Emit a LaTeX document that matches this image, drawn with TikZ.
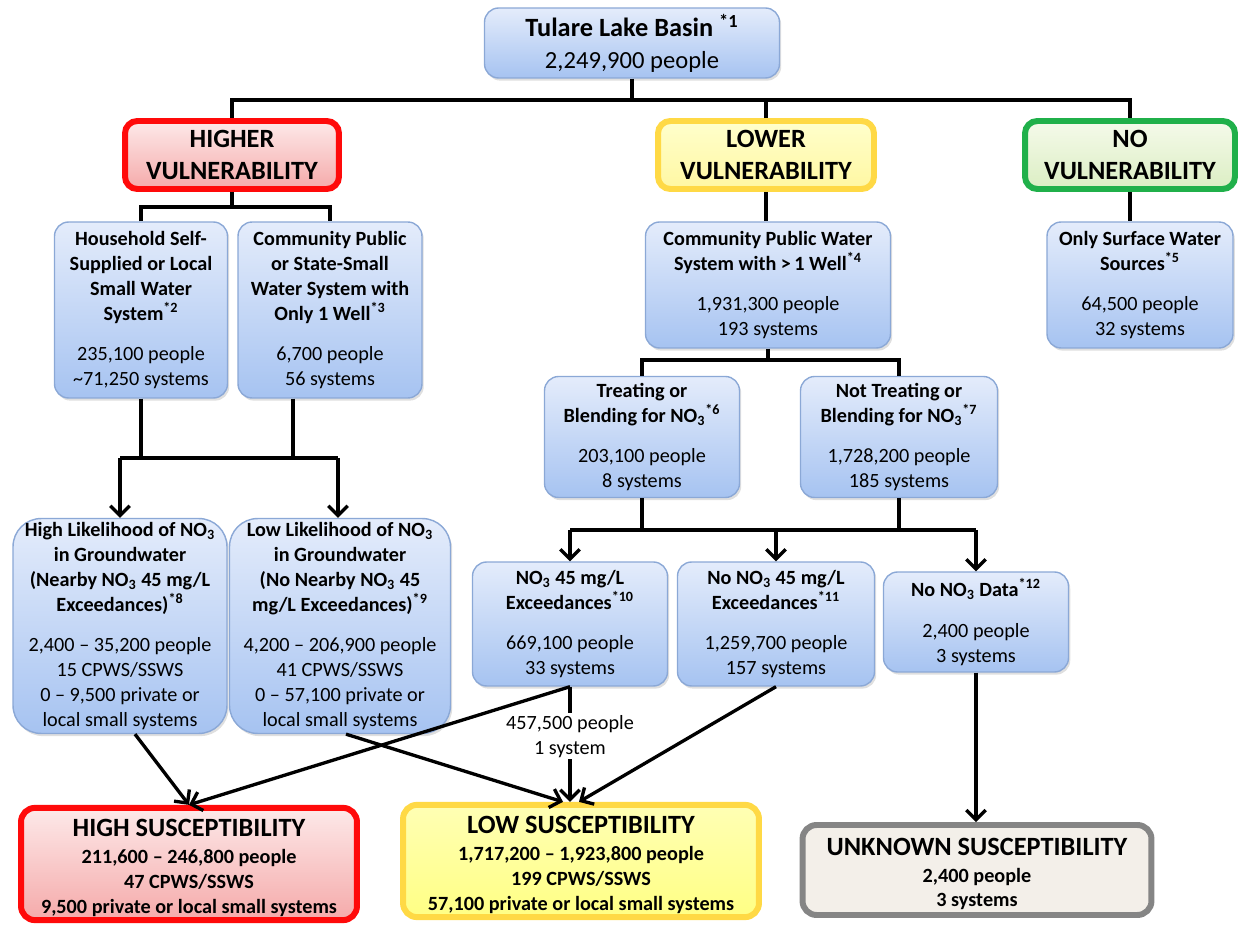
\documentclass[tikz,border=0pt]{standalone}
\usepackage{fontspec}
\setmainfont{Carlito}
\usepackage{tikz}
\usetikzlibrary{calc,shadows,arrows.meta,positioning}

\definecolor{blueTop}{HTML}{E4ECFB}
\definecolor{blueBot}{HTML}{A6C3F1}
\definecolor{blueLine}{HTML}{8BA8D6}
\definecolor{redLine}{HTML}{FF0A0A}
\definecolor{redTop}{HTML}{FDE9E9}
\definecolor{redBot}{HTML}{F5AAAA}
\definecolor{yelLine}{HTML}{FFD945}
\definecolor{yelTop}{HTML}{FFFFCC}
\definecolor{yelBot}{HTML}{FFF7A2}
\definecolor{lowTop}{HTML}{FFFFB4}
\definecolor{lowBot}{HTML}{FFFF84}
\definecolor{grnLine}{HTML}{20B04A}
\definecolor{grnTop}{HTML}{F5FAEA}
\definecolor{grnBot}{HTML}{DBEEC3}
\definecolor{unkLine}{HTML}{858585}
\definecolor{unkFill}{HTML}{F3EFE9}

\newcommand\nitrate{NO\textsubscript{3}}
\newcommand\cellfont{\fontsize{11.5}{14.2}\selectfont}
\newcommand\headfont{\fontsize{15}{18}\selectfont}
\newcommand\sushead[1]{\rule{0pt}{14.5pt}{\headfont #1}}

\tikzset{
	infobox/.style={draw=blueLine, line width=0.8pt, rounded corners=8pt, top color=blueTop, bottom color=blueBot, align=center, inner sep=2pt, font=\cellfont, drop shadow={opacity=0.25,shadow xshift=1pt,shadow yshift=-1.5pt}},
	vulbox/.style={line width=3.4pt, rounded corners=7pt, align=center, inner sep=2pt, font=\headfont\bfseries},
	susbox/.style={line width=3.4pt, rounded corners=8pt, align=center, inner sep=2pt, font=\cellfont\bfseries},
	conn/.style={line width=1.9pt},
	arr/.style={conn, -{Straight Barb[length=5.5pt,width=11pt]}},
}

\begin{document}
\begin{tikzpicture}[x=0.02cm,y=-0.02cm]
	\useasboundingbox (0,0) rectangle (1241,925);
	
	\node[infobox, minimum width=5.9cm, minimum height=1.4cm, font=\fontsize{14}{18}\selectfont] (basin) at (632,43) {\textbf{\headfont Tulare Lake Basin \textsuperscript{*1}}\\2,249,900 people};
	
	\node[vulbox, draw=redLine, top color=redTop, bottom color=redBot, minimum width=4.28cm, minimum height=1.36cm] (higher) at (232,155) {HIGHER\\VULNERABILITY};
	\node[vulbox, draw=yelLine, top color=yelTop, bottom color=yelBot, minimum width=4.32cm, minimum height=1.36cm] (lower) at (766,155) {LOWER\\VULNERABILITY};
	\node[vulbox, draw=grnLine, top color=grnTop, bottom color=grnBot, minimum width=4.2cm, minimum height=1.36cm] (novul) at (1130,155) {NO\\VULNERABILITY};
	
	\node[infobox, minimum width=3.46cm, minimum height=3.52cm] (house) at (141,310) {\textbf{Household Self-}\\\textbf{Supplied or Local}\\\textbf{Small Water}\\\textbf{System\textsuperscript{*2}}\\[9pt]235,100 people\\\textasciitilde71,250 systems};
	\node[infobox, minimum width=3.68cm, minimum height=3.52cm] (comm1) at (330,310) {\textbf{Community Public}\\\textbf{or State-Small}\\\textbf{Water System with}\\\textbf{Only 1 Well\textsuperscript{*3}}\\[9pt]6,700 people\\56 systems};
	\node[infobox, minimum width=4.9cm, minimum height=2.52cm] (comm2) at (768,285) {\textbf{Community Public Water}\\\textbf{System with >\,1 Well\textsuperscript{*4}}\\[9pt]1,931,300 people\\193 systems};
	\node[infobox, minimum width=3.72cm, minimum height=2.52cm] (surface) at (1140,285) {\textbf{Only Surface Water}\\\textbf{Sources\textsuperscript{*5}}\\[9pt]64,500 people\\32 systems};
	
	\node[infobox, minimum width=3.9cm, minimum height=2.42cm] (treat) at (642,437) {\textbf{Treating or}\\\textbf{Blending for \nitrate\textsuperscript{*6}}\\[9pt]203,100 people\\8 systems};
	\node[infobox, minimum width=3.94cm, minimum height=2.42cm] (nottreat) at (899,437) {\textbf{Not Treating or}\\\textbf{Blending for \nitrate\textsuperscript{*7}}\\[9pt]1,728,200 people\\185 systems};
	
	\node[infobox, rounded corners=16pt, minimum width=4.28cm, minimum height=4.26cm] (highlik) at (120,626) {\textbf{High Likelihood of \nitrate}\\\textbf{in Groundwater}\\\textbf{(Nearby \nitrate{} 45 mg/L}\\\textbf{Exceedances)\textsuperscript{*8}}\\[9pt]2,400 -- 35,200 people\\15 CPWS/SSWS\\0 -- 9,500 private or\\local small systems};
	\node[infobox, rounded corners=16pt, minimum width=4.42cm, minimum height=4.26cm] (lowlik) at (340,626) {\textbf{Low Likelihood of \nitrate}\\\textbf{in Groundwater}\\\textbf{(No Nearby \nitrate{} 45}\\\textbf{mg/L Exceedances)\textsuperscript{*9}}\\[9pt]4,200 -- 206,900 people\\41 CPWS/SSWS\\0 -- 57,100 private or\\local small systems};
	
	\node[infobox, minimum width=3.9cm, minimum height=2.48cm] (exceed) at (570,624) {\textbf{\nitrate{} 45 mg/L}\\\textbf{Exceedances\textsuperscript{*10}}\\[9pt]669,100 people\\33 systems};
	\node[infobox, minimum width=3.94cm, minimum height=2.48cm] (noexceed) at (776,624) {\textbf{No \nitrate{} 45 mg/L}\\\textbf{Exceedances\textsuperscript{*11}}\\[9pt]1,259,700 people\\157 systems};
	\node[infobox, minimum width=3.7cm, minimum height=2.0cm] (nodata) at (976,622) {\textbf{No \nitrate{} Data\textsuperscript{*12}}\\[9pt]2,400 people\\3 systems};
	
	\node[susbox, draw=redLine, top color=redTop, bottom color=redBot, minimum width=6.72cm, minimum height=2.12cm] (highsus) at (189,864) {\sushead{HIGH SUSCEPTIBILITY}\\[1pt]211,600 -- 246,800 people\\47 CPWS/SSWS\\9,500 private or local small systems};
	\node[susbox, draw=yelLine, top color=lowTop, bottom color=lowBot, minimum width=7.12cm, minimum height=2.22cm] (lowsus) at (581,861) {\sushead{LOW SUSCEPTIBILITY}\\[1pt]1,717,200 -- 1,923,800 people\\199 CPWS/SSWS\\57,100 private or local small systems};
	\node[susbox, draw=unkLine, fill=unkFill, minimum width=6.98cm, minimum height=1.8cm] (unknown) at (977,870) {\sushead{UNKNOWN SUSCEPTIBILITY}\\[1pt]2,400 people\\3 systems};
	
	% tree lines
	\coordinate (busA) at (632,100);
	\coordinate (busB) at (232,207);
	\coordinate (busC) at (768,360);
	\coordinate (busD) at (230,458);
	\coordinate (busE) at (770,530);
	\coordinate (comm1out) at ($(comm1.south)+(-37,0)$);
	
	\draw[conn] (basin.south) -- (busA);
	\draw[conn] (higher.north) |- (busA) -| (novul.north);
	\draw[conn] (lower.north) -- (lower.north |- busA);
	
	\draw[conn] (higher.south) -- (busB);
	\draw[conn] (house.north) |- (busB) -| (comm1.north);
	
	\draw[conn] (lower.south) -- (lower.south |- comm2.north);
	\draw[conn] (novul.south) -- (novul.south |- surface.north);
	
	\draw[conn] (comm2.south) -- (busC);
	\draw[conn] (treat.north) |- (busC) -| (nottreat.north);
	
	\draw[conn] (house.south) -- (house.south |- busD);
	\draw[conn] (comm1out) -- (comm1out |- busD);
	\draw[conn] (busD -| highlik.north) -- ($(busD -| lowlik.north)+(-2,0)$);
	\draw[arr] (busD -| highlik.north) -- (highlik.north);
	\draw[arr] ($(busD -| lowlik.north)+(-2,0)$) -- ($(lowlik.north)+(-2,0)$);
	
	\draw[conn] (treat.south) -- (treat.south |- busE);
	\draw[conn] (nottreat.south) -- (nottreat.south |- busE);
	\draw[conn] (busE -| exceed.north) -- (busE -| nodata.north);
	\draw[arr] (busE -| exceed.north) -- (exceed.north);
	\draw[arr] (busE -| noexceed.north) -- (noexceed.north);
	\draw[arr] (busE -| nodata.north) -- (nodata.north);
	
	% to susceptibility
	\draw[arr] ($(highlik.south)+(15,0)$) -- (highsus.north);
	\draw[arr] (exceed.south) -- (highsus.north);
	\draw[arr] (exceed.south) -- node[pos=0.43, fill=white, font=\cellfont, align=center, inner sep=1pt] (split) {457,500 people\\1 system} (exceed.south |- lowsus.north);
	\draw[arr] ($(lowlik.south)+(6,0)$) -- ($(lowsus.north)+(-18,0)$);
	\draw[arr] (noexceed.south) -- ($(lowsus.north)+(-2,0)$);
	\draw[arr] (nodata.south) -- (nodata.south |- unknown.north);
	
\end{tikzpicture}
\end{document}
